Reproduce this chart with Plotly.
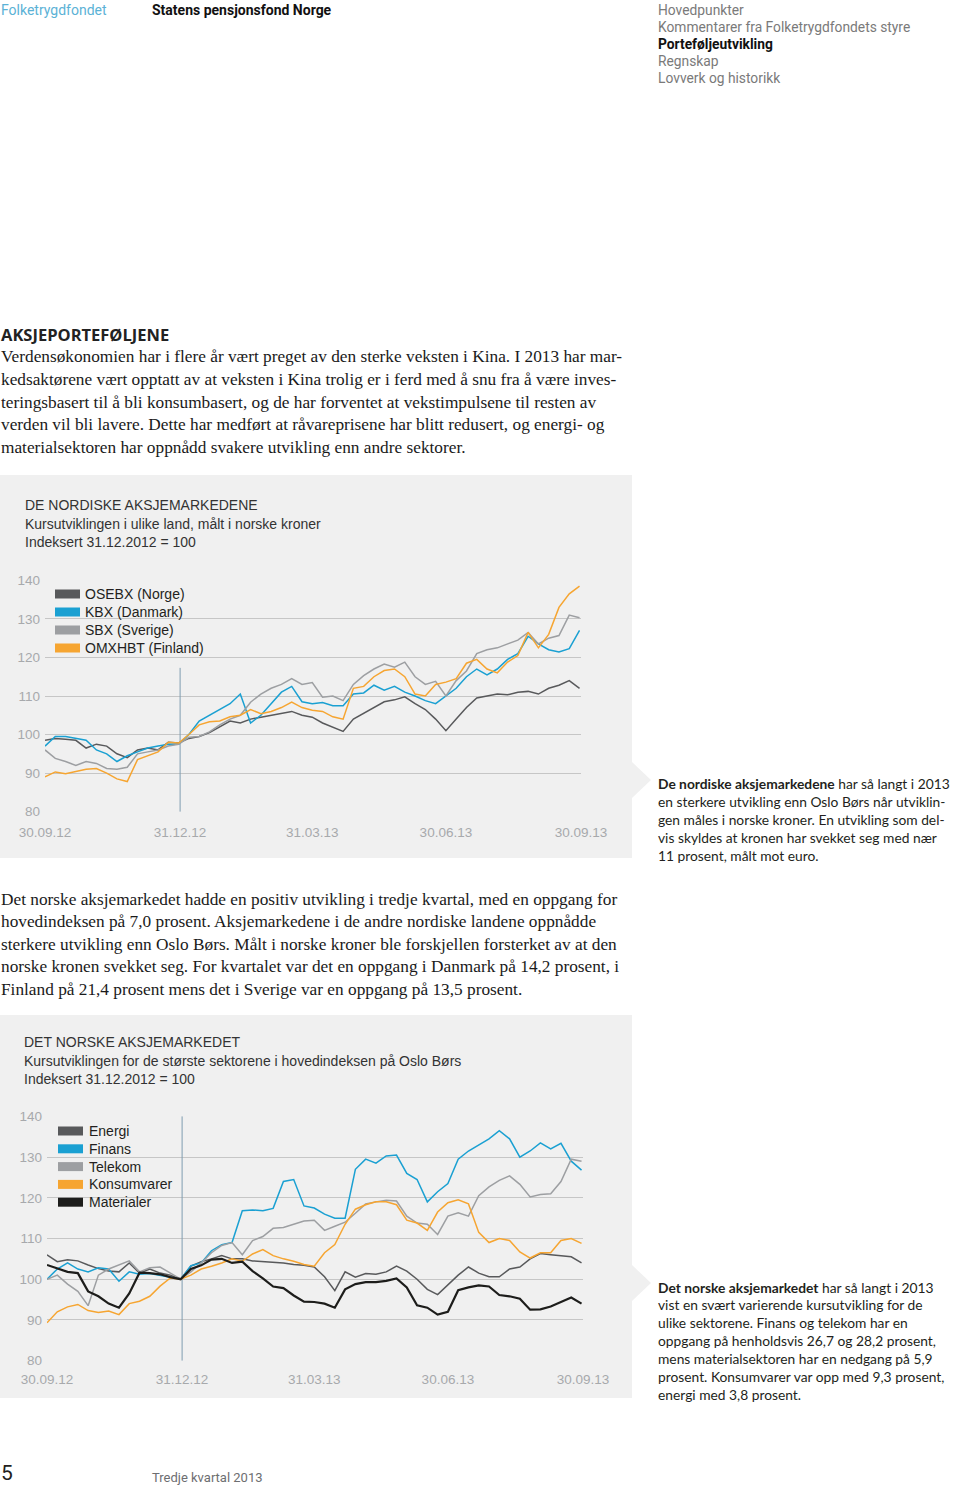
import pandas as pd
import plotly.graph_objects as go

W, H = 960, 1487

# ---------------- DATA ----------------
dates = pd.date_range("2012-09-30", periods=53, freq="7D")
quarter_dates = ["2012-09-30", "2012-12-31", "2013-03-31", "2013-06-30", "2013-09-30"]
quarter_labels = ["30.09.12", "31.12.12", "31.03.13", "30.06.13", "30.09.13"]
y_ticks = [80, 90, 100, 110, 120, 130, 140]

# Chart 1: Nordic markets (NOK)
osebx = [98.5, 99, 98.8, 98.5, 96.5, 97.5, 97, 95, 94, 96, 96.5, 96, 98, 97.8,
         99, 99.5, 100.5, 102, 103.5, 103, 104, 104.5, 105, 105.5, 106, 105, 104.5,
         103, 102, 100.8, 104, 105.5, 107, 108.5, 109, 109.8, 108, 106.5, 104, 101,
         104, 107, 109.5, 110, 110.5, 110.3, 111, 111.2, 110.5, 112, 112.8, 114, 112]
kbx = [97, 99.5, 99.5, 99, 98.5, 96, 95, 93, 94.5, 95.5, 96.5, 97, 97.5, 97.5,
       100, 103.5, 105, 106.5, 108, 110.5, 103, 105, 108, 111, 112.5, 108.5, 108,
       108.3, 107.5, 107.5, 110.5, 110.8, 112.8, 111.5, 112.5, 111, 110, 108.8, 108, 110,
       112, 115, 117, 115.5, 117, 119.5, 121, 125.5, 123.5, 122, 121.4, 122.3, 127]
sbx = [96, 93.8, 93, 92, 93, 92.5, 91.2, 91, 91.5, 95, 95.5, 96, 97, 97.5,
       99.3, 99.5, 100.7, 102.5, 104, 105, 108.4, 110.5, 112, 113, 114.5, 113, 113.5,
       109.7, 110, 108.8, 113, 115.3, 117, 118.3, 117.5, 118.8, 115, 113, 113.8, 110,
       114, 116.5, 121, 122, 122.5, 123.5, 124.5, 126.5, 123.5, 125, 125.7, 131, 130.3]
omxhbt = [89, 90.3, 89.8, 90.5, 91, 91.2, 90, 88.5, 87.8, 93.5, 94.5, 95.5, 98, 97.8,
          100, 102.5, 103.3, 103.5, 104.6, 105, 106.5, 105.4, 106, 107, 108.4, 107, 106.3,
          106, 104.6, 104, 112, 112.5, 115, 116.6, 117, 115, 110.5, 110, 113, 113.6,
          114.5, 118.5, 119.5, 117, 116, 118.8, 120.5, 126.5, 122.5, 126, 133, 136.5, 138.5]

# Chart 2: Oslo Børs sectors
energi = [106, 104.3, 104.8, 104.5, 103.5, 102.6, 102, 101.8, 104, 101.5, 102.5, 101.5, 101, 100,
          103.2, 104.3, 105, 105.8, 105, 105, 104.5, 104.3, 104.2, 104, 103.6, 103.4, 103,
          100.6, 97.2, 101.8, 100.5, 101.4, 101.2, 101.8, 103.2, 102, 100, 97.5, 96.2, 98.5,
          101, 103, 101.5, 100.6, 100.6, 102.5, 103, 105, 106.3, 106, 105.8, 105.5, 104]
finans = [100, 102.5, 104, 102.5, 101.8, 102.8, 102.5, 99.5, 101.8, 101.2, 101.4, 101, 100.5, 100,
          103.3, 104, 107, 108.5, 109, 116.8, 117, 116.8, 117.4, 124, 124.5, 118, 117.5,
          116, 115, 115, 127, 129.5, 128.5, 130.3, 130.5, 126, 124.5, 119, 121.5, 123.5,
          129.5, 131.5, 133, 134.5, 136.5, 134.5, 130, 131.5, 133.5, 132, 133.4, 129, 126.8]
telekom = [100, 101, 98.8, 97, 93.5, 101, 102.5, 103.5, 104.5, 101.8, 102.8, 103, 101.5, 100,
           101.8, 104, 106.5, 108.3, 109, 106, 109.5, 110.5, 112.5, 112.7, 113.5, 114.3, 114.5,
           112, 113, 114, 116.2, 118.5, 119, 119.4, 119.2, 115.5, 113.8, 113.5, 111, 115.5,
           116.3, 115.5, 120.5, 122.7, 124.3, 125.4, 123.3, 120.2, 120.8, 121, 124, 129.5, 129]
konsumvarer = [89.3, 92, 93.2, 93.8, 92.3, 91.8, 92.2, 91.3, 94, 94.6, 95.8, 98.3, 100.3, 100,
               101, 102.5, 103.2, 104, 105, 104.4, 106.2, 107.3, 105.8, 105, 104.4, 103.6, 103.2,
               106.5, 108.5, 113.5, 117.2, 118.3, 119, 119, 118.3, 114.5, 113.8, 112, 116.5, 118.8,
               119.5, 118.5, 111.5, 109, 110, 109.5, 106.7, 105.2, 106.5, 106.5, 109.5, 110, 108.8]
materialer = [103.5, 102.6, 101.8, 101.5, 97, 95.8, 94, 93, 96.5, 101.6, 101.5, 101.2, 100.5, 100,
              102.5, 103.4, 104.8, 105, 104, 104.3, 102, 100.2, 98.2, 97.8, 96, 94.5, 94.4,
              94, 93, 97.5, 98.8, 99.3, 99.3, 99.6, 100.2, 98, 93.6, 93, 91.3, 92,
              97.3, 98, 98.5, 98.2, 96.1, 95.8, 95.2, 92.5, 92.6, 93.3, 94.5, 95.5, 94]

chart1_names = ["OSEBX (Norge)", "KBX (Danmark)", "SBX (Sverige)", "OMXHBT (Finland)"]
chart2_names = ["Energi", "Finans", "Telekom", "Konsumvarer", "Materialer"]

# ---------------- STYLE ----------------
C_DARK = "#58595b"
C_BLUE = "#1aa0d2"
C_GREY = "#9d9fa2"
C_ORANGE = "#f6a531"
C_BLACK = "#1d1d1b"
PANEL = "#f0f0f0"
GRID = "#c6c6c6"
SANS = "Liberation Sans, Arial, sans-serif"
SERIF = "Liberation Serif, Times New Roman, serif"


def fx(p):
    return p / W


def fy(p):
    return 1 - p / H


fig = go.Figure()

series1 = [(osebx, C_DARK, 1.5), (kbx, C_BLUE, 1.5), (sbx, C_GREY, 1.5), (omxhbt, C_ORANGE, 1.5)]
for name, (vals, col, w) in zip(chart1_names, series1):
    fig.add_trace(go.Scatter(x=dates, y=vals, name=name, mode="lines",
                             line=dict(color=col, width=w), xaxis="x", yaxis="y",
                             showlegend=False))

series2 = [(energi, C_DARK, 1.5), (finans, C_BLUE, 1.5), (telekom, C_GREY, 1.5),
           (konsumvarer, C_ORANGE, 1.5), (materialer, C_BLACK, 2.2)]
for name, (vals, col, w) in zip(chart2_names, series2):
    fig.add_trace(go.Scatter(x=dates, y=vals, name=name, mode="lines",
                             line=dict(color=col, width=w), xaxis="x2", yaxis="y2",
                             showlegend=False))


def xax(domain, standoff):
    return dict(domain=domain, type="date", range=["2012-09-30", "2013-09-30"],
                tickvals=quarter_dates, ticktext=quarter_labels, showgrid=False,
                zeroline=False, showline=False, ticks="", automargin=False,
                tickfont=dict(family=SANS, size=13.5, color="#a7a9ac"),
                ticklabelstandoff=standoff, fixedrange=True)


def yax(domain, anchor):
    return dict(domain=domain, range=[79.9, 140.1], tickvals=y_ticks, showgrid=True,
                gridcolor=GRID, gridwidth=1.2, zeroline=False, showline=False, ticks="",
                tickfont=dict(family=SANS, size=13.5, color="#a7a9ac"), automargin=False,
                ticklabelstandoff=4, anchor=anchor, fixedrange=True)


fig.update_layout(
    width=W, height=H, margin=dict(l=0, r=0, t=0, b=0, pad=0, autoexpand=False),
    paper_bgcolor="white", plot_bgcolor="rgba(0,0,0,0)",
    xaxis=dict(**xax([fx(45), fx(581)], 10), anchor="y"),
    yaxis=yax([fy(812), fy(580)], "x"),
    xaxis2=dict(**xax([fx(47), fx(583)], 8), anchor="y2"),
    yaxis2=yax([fy(1361), fy(1116)], "x2"),
    showlegend=False,
)

shapes = []
# panels
shapes.append(dict(type="rect", xref="paper", yref="paper", x0=0, x1=fx(632), y0=fy(858), y1=fy(475),
                   fillcolor=PANEL, line=dict(width=0), layer="below"))
shapes.append(dict(type="rect", xref="paper", yref="paper", x0=0, x1=fx(632), y0=fy(1398), y1=fy(1015),
                   fillcolor=PANEL, line=dict(width=0), layer="below"))
# pointers
for cy in (780, 1283):
    shapes.append(dict(type="path", xref="paper", yref="paper",
                       path=f"M {fx(632)},{fy(cy-18)} L {fx(651)},{fy(cy)} L {fx(632)},{fy(cy+18)} Z",
                       fillcolor=PANEL, line=dict(width=0), layer="below"))
# legend boxes (hide grid behind legends)
shapes.append(dict(type="rect", xref="paper", yref="paper", x0=fx(52), x1=fx(215), y0=fy(668), y1=fy(586),
                   fillcolor=PANEL, line=dict(width=0), layer="between"))
shapes.append(dict(type="rect", xref="paper", yref="paper", x0=fx(50), x1=fx(177), y0=fy(1212), y1=fy(1121),
                   fillcolor=PANEL, line=dict(width=0), layer="between"))
# 31.12.12 markers
shapes.append(dict(type="line", xref="x", yref="y", x0="2012-12-31", x1="2012-12-31", y0=80, y1=117.3,
                   line=dict(color="#7f9cb0", width=1), layer="between"))
shapes.append(dict(type="line", xref="x2", yref="y2", x0="2012-12-31", x1="2012-12-31", y0=80, y1=140,
                   line=dict(color="#7f9cb0", width=1), layer="between"))

annotations = []


def txt(x, y, text, size, color="#231f20", family=SANS):
    annotations.append(dict(x=fx(x), y=fy(y), xref="paper", yref="paper", text=text,
                            showarrow=False, xanchor="left", yanchor="middle",
                            font=dict(family=family, size=size, color=color), borderpad=0))


# legend swatches + labels
for i, (name, (vals, col, w)) in enumerate(zip(chart1_names, series1)):
    cy = 594 + 18 * i
    shapes.append(dict(type="rect", xref="paper", yref="paper", x0=fx(55), x1=fx(80),
                       y0=fy(cy + 4.5), y1=fy(cy - 4.5), fillcolor=col, line=dict(width=0), layer="above"))
    txt(84, cy, name, 14, "#231f20")
for i, (name, (vals, col, w)) in enumerate(zip(chart2_names, series2)):
    cy = 1131 + 17.8 * i
    shapes.append(dict(type="rect", xref="paper", yref="paper", x0=fx(58), x1=fx(83),
                       y0=fy(cy + 4.5), y1=fy(cy - 4.5), fillcolor=col, line=dict(width=0), layer="above"))
    txt(88, cy, name, 14, "#231f20")

# chart titles
txt(24, 505, "DE NORDISKE AKSJEMARKEDENE", 14, "#333333")
txt(24, 524, "Kursutviklingen i ulike land, målt i norske kroner", 14, "#333333")
txt(24, 542, "Indeksert 31.12.2012 = 100", 14, "#333333")
txt(23, 1042, "DET NORSKE AKSJEMARKEDET", 14, "#333333")
txt(23, 1061, "Kursutviklingen for de største sektorene i hovedindeksen på Oslo Børs", 14, "#333333")
txt(23, 1079, "Indeksert 31.12.2012 = 100", 14, "#333333")

# header
HDR = "Roboto, sans-serif"
txt(0, 10, "Folketrygdfondet", 14, "#5bb2d6", HDR)
txt(151, 10, "<b>Statens pensjonsfond Norge</b>", 14, "#111111", HDR)
menu = ["Hovedpunkter", "Kommentarer fra Folketrygdfondets styre", "<b>Porteføljeutvikling</b>",
        "Regnskap", "Lovverk og historikk"]
for i, m in enumerate(menu):
    txt(657, 10 + 17 * i, m, 13.8, "#111111" if "<b>" in m else "#7a7a7a", HDR)

# body text
txt(0, 334, "<b>AKSJEPORTEFØLJENE</b>", 16.5, "#222222", "Open Sans, sans-serif")
para1 = [
    "Verdensøkonomien har i flere år vært preget av den sterke veksten i Kina. I 2013 har mar-",
    "kedsaktørene vært opptatt av at veksten i Kina trolig er i ferd med å snu fra å være inves-",
    "teringsbasert til å bli konsumbasert, og de har forventet at vekstimpulsene til resten av",
    "verden vil bli lavere. Dette har medført at råvareprisene har blitt redusert, og energi- og",
    "materialsektoren har oppnådd svakere utvikling enn andre sektorer.",
]
for i, line in enumerate(para1):
    txt(0, 357 + 22.5 * i, line, 17.3, "#1a1a1a", SERIF)
para2 = [
    "Det norske aksjemarkedet hadde en positiv utvikling i tredje kvartal, med en oppgang for",
    "hovedindeksen på 7,0 prosent. Aksjemarkedene i de andre nordiske landene oppnådde",
    "sterkere utvikling enn Oslo Børs. Målt i norske kroner ble forskjellen forsterket av at den",
    "norske kronen svekket seg. For kvartalet var det en oppgang i Danmark på 14,2 prosent, i",
    "Finland på 21,4 prosent mens det i Sverige var en oppgang på 13,5 prosent.",
]
for i, line in enumerate(para2):
    txt(0, 899 + 22.5 * i, line, 17.3, "#1a1a1a", SERIF)

# side notes
SIDE = "Lato, sans-serif"
side1 = [
    "<b>De nordiske aksjemarkedene</b> har så langt i 2013",
    "en sterkere utvikling enn Oslo Børs når utviklin-",
    "gen måles i norske kroner. En utvikling som del-",
    "vis skyldes at kronen har svekket seg med nær",
    "11 prosent, målt mot euro.",
]
for i, line in enumerate(side1):
    txt(657, 783 + 18 * i, line, 13.8, "#231f20", SIDE)
side2 = [
    "<b>Det norske aksjemarkedet</b> har så langt i 2013",
    "vist en svært varierende kursutvikling for de",
    "ulike sektorene. Finans og telekom har en",
    "oppgang på henholdsvis 26,7 og 28,2 prosent,",
    "mens materialsektoren har en nedgang på 5,9",
    "prosent. Konsumvarer var opp med 9,3 prosent,",
    "energi med 3,8 prosent.",
]
for i, line in enumerate(side2):
    txt(657, 1287 + 17.9 * i, line, 13.8, "#231f20", SIDE)

# footer
txt(0, 1473, "5", 21, "#231f20", HDR)
txt(151, 1477, "Tredje kvartal 2013", 13, "#6d6e71", HDR)

fig.update_layout(shapes=shapes, annotations=annotations)
fig.write_html("out.html", config={"displayModeBar": False},
               post_script="document.body.style.margin='0px';document.body.style.padding='0px';")
